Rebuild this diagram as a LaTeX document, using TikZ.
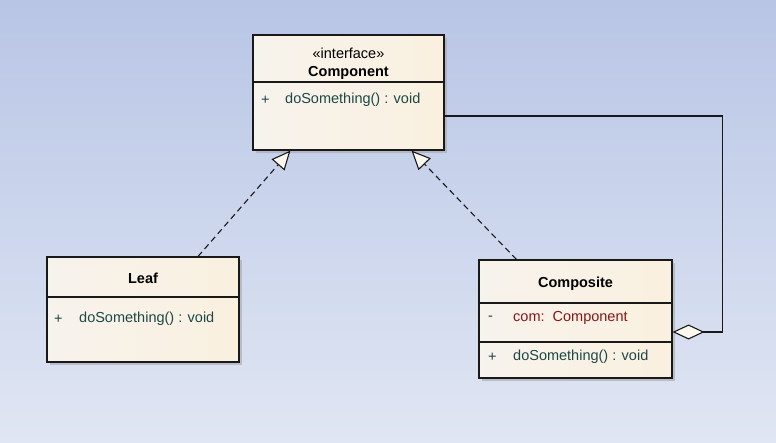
\documentclass[tikz,border=0pt]{standalone}
\usepackage{fontspec}
\setmainfont{Liberation Sans}
\usepackage{xcolor}
\usepackage{tikz}
\usetikzlibrary{arrows.meta,shadows}

\definecolor{bgtop}{RGB}{184,197,229}
\definecolor{bgbot}{RGB}{224,230,243}
\definecolor{boxleft}{RGB}{247,243,237}
\definecolor{boxright}{RGB}{250,240,223}
\definecolor{optext}{RGB}{28,72,72}
\definecolor{attrtext}{RGB}{135,22,22}

\begin{document}
\begin{tikzpicture}[
    x=1pt, y=-1pt,
    every node/.style={font=\fontsize{14.5}{17}\selectfont, inner sep=0pt},
    classbox/.style={draw=black!90, line width=1.1pt, left color=boxleft, right color=boxright,
        drop shadow={shadow xshift=3pt, shadow yshift=-3pt, fill=black!35, opacity=0.6}},
    divider/.style={draw=black!90, line width=1.1pt},
    cname/.style={font=\fontsize{14.5}{17}\selectfont\bfseries},
    vis/.style={anchor=west, text=optext},
    op/.style={anchor=west, text=optext},
    attr/.style={anchor=west, text=attrtext},
    realize/.style={dashed, dash pattern=on 6pt off 4pt, line width=1.1pt, draw=black!90,
        -{Triangle[length=19pt, width=17pt, fill=boxright!50!white]}},
    aggr/.style={line width=1.1pt, draw=black!90,
        {Diamond[length=32pt, width=15pt, fill=boxright!50!white]}-},
]
    % background
    \shade[top color=bgtop, bottom color=bgbot] (0,0) rectangle (776,442);

    % Component
    \node[classbox, minimum width=191pt, minimum height=115pt] (comp) at (348.5,92.5) {};
    \draw[divider] (comp.west |- 0,82) -- (comp.east |- 0,82);
    \node (comp-stereo) at (348.5,53) {«interface»};
    \node[cname] (comp-name) at (348.5,73) {Component};
    \node[vis] (comp-vis) at (261,100) {+};
    \node[op] (comp-op) at (285,100) {doSomething() : void};

    % Leaf
    \node[classbox, minimum width=192pt, minimum height=105pt] (leaf) at (143,309.5) {};
    \draw[divider] (leaf.west |- 0,297) -- (leaf.east |- 0,297);
    \node[cname] (leaf-name) at (143,278) {Leaf};
    \node[vis] (leaf-vis) at (54,319) {+};
    \node[op] (leaf-op) at (79,319) {doSomething() : void};

    % Composite
    \node[classbox, minimum width=193pt, minimum height=118pt] (compo) at (575.5,319) {};
    \draw[divider] (compo.west |- 0,303) -- (compo.east |- 0,303);
    \draw[divider] (compo.west |- 0,342) -- (compo.east |- 0,342);
    \node[cname] (compo-name) at (575.5,284) {Composite};
    \node[vis] (compo-vis1) at (488,318) {-};
    \node[attr] (compo-attr) at (513,318) {com:\ \ Component};
    \node[vis] (compo-vis2) at (488,357) {+};
    \node[op] (compo-op) at (513,357) {doSomething() : void};

    % realizations
    \draw[realize] ([xshift=55pt]leaf.north) -- ([xshift=-58pt]comp.south);
    \draw[realize] ([xshift=-59pt]compo.north) -- ([xshift=63pt]comp.south);

    % aggregation
    \draw[aggr] ([yshift=-13pt]compo.east) -- ++(50,0) |- ([yshift=-23.5pt]comp.east);
\end{tikzpicture}
\end{document}
